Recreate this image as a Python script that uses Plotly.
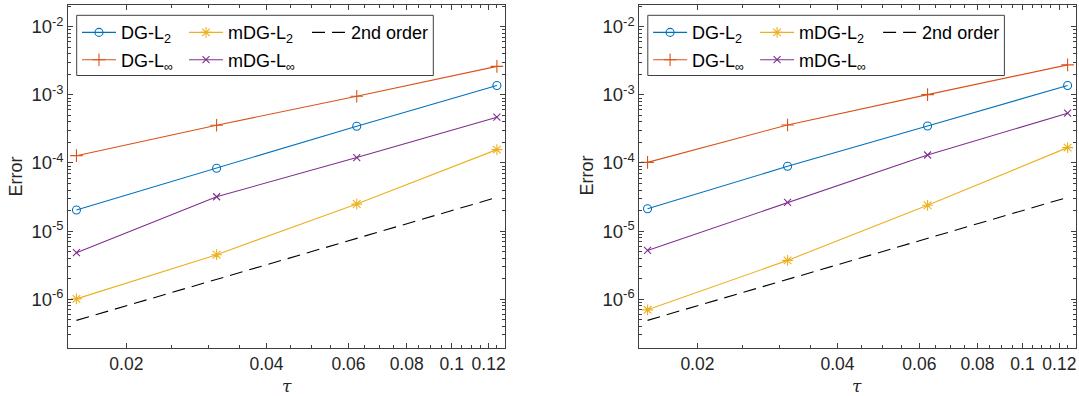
import plotly.graph_objects as go

# ---------------- data ----------------
tau = [1/64, 1/32, 1/16, 1/8]

left_dg_l2 = [2.04e-5, 8.36e-5, 3.47e-4, 1.37e-3]
left_dg_linf = [1.28e-4, 3.58e-4, 9.57e-4, 2.62e-3]
left_mdg_l2 = [1.01e-6, 4.50e-6, 2.49e-5, 1.57e-4]
left_mdg_linf = [4.81e-6, 3.19e-5, 1.20e-4, 4.70e-4]

right_dg_l2 = [2.13e-5, 8.93e-5, 3.50e-4, 1.37e-3]
right_dg_linf = [1.02e-4, 3.62e-4, 1.01e-3, 2.76e-3]
right_mdg_l2 = [6.97e-7, 3.71e-6, 2.39e-5, 1.68e-4]
right_mdg_linf = [5.20e-6, 2.64e-5, 1.31e-4, 5.38e-4]

order2 = [4.88e-7, 1.95e-6, 7.81e-6, 3.125e-5]

x_tickvals = [0.02, 0.04, 0.06, 0.08, 0.1, 0.12]
x_ticktext = ["0.02", "0.04", "0.06", "0.08", "0.1", "0.12"]
y_tickvals = [1e-6, 1e-5, 1e-4, 1e-3, 1e-2]
y_ticktext = ["10<sup>-6</sup>", "10<sup>-5</sup>", "10<sup>-4</sup>",
              "10<sup>-3</sup>", "10<sup>-2</sup>"]

names = ["DG-L<sub>2</sub>", "DG-L<sub>∞</sub>", "mDG-L<sub>2</sub>",
         "mDG-L<sub>∞</sub>", "2nd order"]

# ---------------- style ----------------
W, H = 1079, 396
FONT = "Liberation Sans, Arial, Helvetica, sans-serif"
TXT = "#262626"
AXC = "#404040"
C_BLUE, C_ORANGE, C_YELLOW, C_PURPLE = "#0072BD", "#D95319", "#EDB120", "#7E2F8E"


def px(x):
    return x / W


def py(y):
    return 1 - y / H


fig = go.Figure()

panels = [
    dict(xa="x", ya="y", off=0.0,
         data=[left_dg_l2, left_dg_linf, left_mdg_l2, left_mdg_linf]),
    dict(xa="x2", ya="y2", off=571.1,
         data=[right_dg_l2, right_dg_linf, right_mdg_l2, right_mdg_linf]),
]

styles = [
    dict(color=C_BLUE, symbol="circle-open", size=8),
    dict(color=C_ORANGE, symbol="cross-thin-open", size=9),
    dict(color=C_YELLOW, symbol="asterisk-open", size=9),
    dict(color=C_PURPLE, symbol="x-thin-open", size=7),
]

# legend cell positions (line start x, row center y) in px, left panel
leg_pos = [(82, 32.7), (82, 60.0), (189, 32.7), (189, 60.0), (312, 32.7)]

leg_count = 0
layout_legends = {}
for p in panels:
    series = p["data"] + [order2]
    for i, ys in enumerate(series):
        leg_count += 1
        lname = "legend" if leg_count == 1 else f"legend{leg_count}"
        if i < 4:
            st = styles[i]
            tr = go.Scatter(
                x=tau, y=ys, xaxis=p["xa"], yaxis=p["ya"], name=names[i],
                mode="lines+markers",
                line=dict(color=st["color"], width=1.1),
                marker=dict(symbol=st["symbol"], size=st["size"], color=st["color"],
                            line=dict(color=st["color"], width=1.1)),
                legend=lname, showlegend=True,
            )
        else:
            tr = go.Scatter(
                x=tau, y=ys, xaxis=p["xa"], yaxis=p["ya"], name=names[i],
                mode="lines", line=dict(color="black", width=1.1, dash="13px,7px"),
                legend=lname, showlegend=True,
            )
        fig.add_trace(tr)
        lx, ly = leg_pos[i]
        layout_legends[lname] = dict(
            x=px(lx + p["off"] - 5), y=py(ly), xanchor="left", yanchor="middle",
            orientation="v", bgcolor="rgba(0,0,0,0)", borderwidth=0,
            font=dict(family=FONT, size=18, color="black"), itemwidth=34,
            itemclick=False, itemdoubleclick=False,
        )

# minor tick positions (styling only)
x_minor = [round(0.025 + 0.005 * k, 3) for k in range(21)]
x_minor = [v for v in x_minor if all(abs(v - t) > 1e-9 for t in x_tickvals)]
y_minor = [m * 10.0 ** e for e in range(-7, -1) for m in range(2, 10)]

axis_common = dict(
    type="log", showline=True, linecolor=AXC, linewidth=1, mirror="ticks",
    ticks="inside", ticklen=5, tickwidth=1, tickcolor=AXC,
    showgrid=False, zeroline=False,
)

xd = [(68.2, 504.8), (639.3, 1075.5)]
yd = [py(347.5), py(5)]
x_range = [-1.8239, -0.8861]
y_range = [-6.71, -1.68]

for k, (a, b) in enumerate(xd):
    xkey = "xaxis" if k == 0 else "xaxis2"
    ykey = "yaxis" if k == 0 else "yaxis2"
    anchor_y = "y" if k == 0 else "y2"
    anchor_x = "x" if k == 0 else "x2"
    fig.layout[xkey] = dict(
        axis_common, domain=[px(a), px(b)], range=x_range, anchor=anchor_y,
        tickmode="array", tickvals=x_tickvals, ticktext=x_ticktext,
        tickfont=dict(family=FONT, size=17.5, color=TXT),
        minor=dict(ticks="inside", ticklen=3, tickwidth=1, tickcolor=AXC,
                   tickmode="array", tickvals=x_minor, showgrid=False),
    )
    fig.layout[ykey] = dict(
        axis_common, domain=yd, range=y_range, anchor=anchor_x,
        tickmode="array", tickvals=y_tickvals, ticktext=y_ticktext,
        tickfont=dict(family=FONT, size=18.5, color=TXT),
        minor=dict(ticks="inside", ticklen=3, tickwidth=1, tickcolor=AXC,
                   tickmode="array", tickvals=y_minor, showgrid=False),
    )

shapes = []
annotations = []
for off, (a, b) in zip([0.0, 571.1], xd):
    shapes.append(dict(
        type="rect", xref="paper", yref="paper",
        x0=px(76.7 + off), x1=px(433.3 + off), y0=py(75.5), y1=py(15.3),
        line=dict(color=AXC, width=1), fillcolor="white", layer="below",
    ))
    annotations.append(dict(
        text="Error", xref="paper", yref="paper", x=px(15.5 + off), y=py(176),
        textangle=-90, showarrow=False, xanchor="center", yanchor="middle",
        font=dict(family=FONT, size=18, color=TXT),
    ))
    annotations.append(dict(
        text="<i>τ</i>", xref="paper", yref="paper", x=px((a + b) / 2), y=py(386),
        showarrow=False, xanchor="center", yanchor="middle",
        font=dict(family="DejaVu Serif, serif", size=17, color=TXT),
    ))

fig.update_layout(
    width=W, height=H, margin=dict(l=0, r=0, t=0, b=0),
    paper_bgcolor="white", plot_bgcolor="white",
    shapes=shapes, annotations=annotations,
    **layout_legends,
)

fig.write_html(
    "out.html",
    config={"displayModeBar": False},
    post_script="document.body.style.margin='0px';document.body.style.overflow='hidden';",
)
